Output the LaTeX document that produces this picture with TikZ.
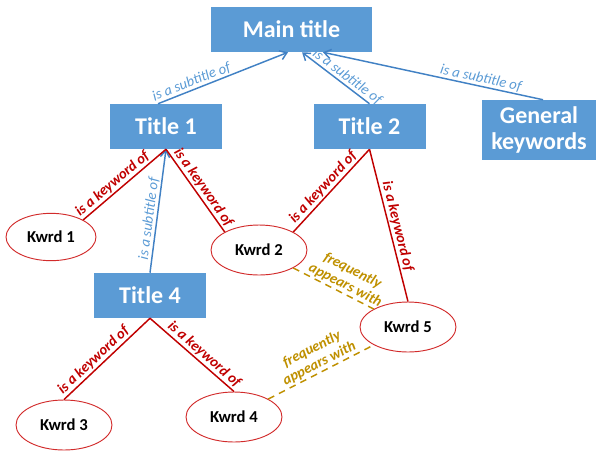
\documentclass[tikz,border=0pt]{standalone}
\usepackage{fontspec}
\setmainfont{Carlito}
\usepackage{tikz}
\usetikzlibrary{shapes.geometric,arrows.meta}
\definecolor{boxblue}{HTML}{5B9BD5}
\definecolor{linkblue}{HTML}{4181C4}
\definecolor{kwred}{HTML}{C00000}
\definecolor{ovalred}{HTML}{D22B2B}
\definecolor{gold}{HTML}{BF9000}
\tikzset{
  title/.style={rectangle, fill=boxblue, text=white, inner sep=0pt, align=center,
    minimum width=84pt, minimum height=33.75pt, font=\fontsize{18}{20}\selectfont\bfseries},
  kwrd/.style={ellipse, draw=ovalred, line width=0.7pt, fill=white, inner sep=0pt,
    minimum width=72pt, minimum height=37.5pt, font=\fontsize{12.5}{14}\selectfont\bfseries},
  sub/.style={draw=linkblue, line width=1.1pt, -{Straight Barb[length=5pt,width=7pt]}},
  kw/.style={draw=kwred, line width=1.1pt},
  freq/.style={draw=gold, line width=1.1pt, dash pattern=on 5pt off 4pt},
  sublab/.style={sloped, above, inner sep=1pt, text=boxblue, font=\fontsize{11}{13}\selectfont\itshape},
  kwlab/.style={sloped, above, inner sep=1pt, text=kwred, font=\fontsize{11}{12}\selectfont\bfseries\itshape},
  freqlab/.style={sloped, above, inner sep=1pt, align=center, text=gold, font=\fontsize{11}{12}\selectfont\bfseries\itshape},
}

\begin{document}
\begin{tikzpicture}[x=0.75pt,y=-0.75pt]
  \useasboundingbox (0,0) rectangle (600,451);
  % titles
  \node[title, minimum width=120.75pt] (main) at (291.5,29.5) {Main title};
  \node[title] (t1) at (166,126.5) {Title 1};
  \node[title] (t2) at (369.5,126.5) {Title 2};
  \node[title, minimum width=85.5pt, minimum height=45pt] (gen) at (539,130) {General\\keywords};
  \node[title] (t4) at (150,295.5) {Title 4};
  % keywords
  \node[kwrd, minimum width=67.5pt, minimum height=35.5pt] (k1) at (51,237) {Kwrd 1};
  \node[kwrd] (k2) at (259,250) {Kwrd 2};
  \node[kwrd] (k5) at (408,327) {Kwrd 5};
  \node[kwrd] (k3) at (64,425) {Kwrd 3};
  \node[kwrd] (k4) at (234,417) {Kwrd 4};

  \draw[sub] ([xshift=-6pt]t1.north) -- node[sublab, pos=0.28] {is a subtitle of} ([xshift=-2.6pt]main.south);
  \draw[sub] (t2.north) -- node[sublab, pos=0.4] {is a subtitle of} ([xshift=7.9pt]main.south);
  \draw[sub] ([xshift=3pt]gen.north) -- node[sublab, pos=0.29] {is a subtitle of} ([xshift=23.6pt]main.south);
  \draw[sub] (t4.north) -- node[sublab, pos=0.43] {is a subtitle of} (t1.south);

  \draw[kw] (k1.north east) -- node[kwlab, pos=0.42] {is a keyword of} (t1.south);
  \draw[kw] (t1.south) -- node[kwlab, pos=0.52] {is a keyword of} (k2.north west);
  \draw[kw] (k2.north east) -- node[kwlab, pos=0.47] {is a keyword of} (t2.south);
  \draw[kw] (t2.south) -- node[kwlab, pos=0.52] {is a keyword of} (k5.north);
  \draw[kw] (k3.north) -- node[kwlab, pos=0.41] {is a keyword of} (t4.south);
  \draw[kw] (t4.south) -- node[kwlab, pos=0.58] {is a keyword of} (k4.north);

  \draw[freq] (k2.south east) -- node[freqlab, pos=0.6] {frequently\\appears with} (k5.north west);
  \draw[freq] (k4.north east) -- node[freqlab, pos=0.52] {frequently\\appears with} (k5.south west);
\end{tikzpicture}
\end{document}
